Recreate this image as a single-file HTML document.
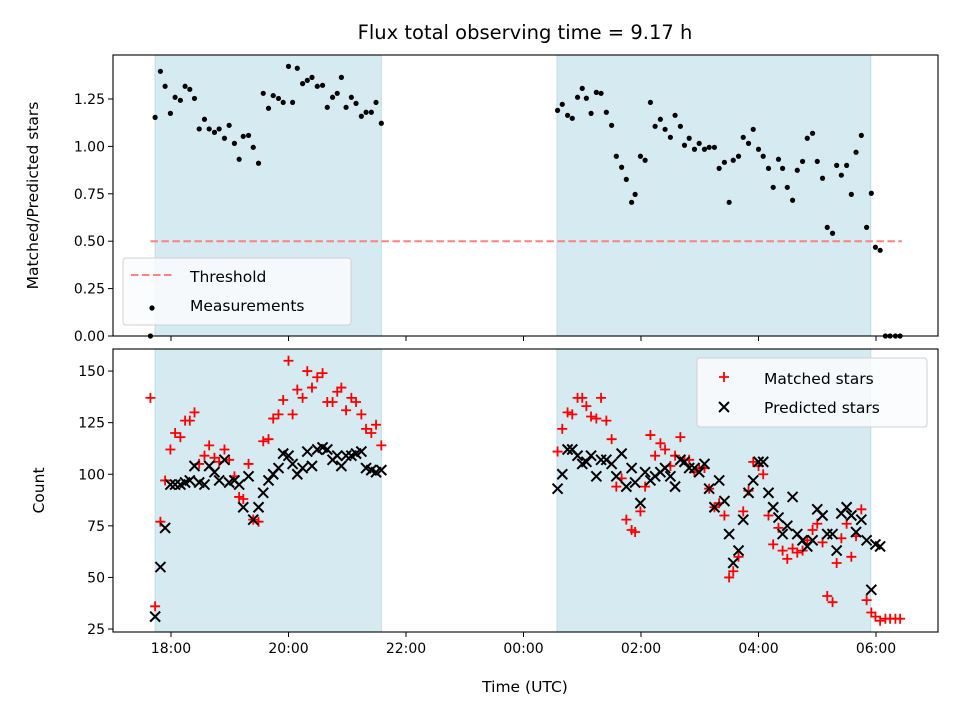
<!DOCTYPE html>
<html><head><meta charset="utf-8"><style>
html,body{margin:0;padding:0;background:#fff;}
svg{display:block;font-family:"DejaVu Sans","Liberation Sans",sans-serif;}
</style></head><body>
<svg id="chart" width="960" height="720" viewBox="0 0 960 720" xmlns="http://www.w3.org/2000/svg">
<text x="525" y="39" font-size="19.5" text-anchor="middle" fill="#000">Flux total observing time = 9.17 h</text>
<g id="top"></g><g id="bot"></g>
</svg>
<script>
// Decimal hours (24+ = next day)
const times = [17.65,17.73,17.82,17.90,17.99,18.07,18.16,18.24,18.32,18.40,18.48,18.57,18.65,18.74,18.82,18.91,18.99,19.08,19.16,19.23,19.32,19.40,19.49,19.57,19.66,19.74,19.83,19.91,20.00,20.07,20.15,20.24,20.32,20.40,20.49,20.58,20.66,20.75,20.83,20.90,20.98,21.07,21.15,21.24,21.32,21.41,21.49,21.58,
24.58,24.66,24.75,24.83,24.92,25.00,25.07,25.15,25.24,25.32,25.41,25.50,25.58,25.67,25.75,25.84,25.90,25.99,26.07,26.16,26.24,26.33,26.41,26.50,26.58,26.67,26.74,26.82,26.91,26.99,27.08,27.16,27.25,27.33,27.42,27.50,27.57,27.66,27.74,27.83,27.91,28.00,28.08,28.17,28.25,28.34,28.41,28.49,28.58,28.66,28.75,28.83,28.92,29.00,29.09,29.17,29.26,29.33,29.41,29.50,29.58,29.66,29.75,29.84,29.92,29.99,30.07,30.16,30.24,30.33,30.41];
const ratios = [0,1.153,1.396,1.317,1.174,1.259,1.243,1.317,1.301,1.253,1.092,1.143,1.092,1.074,1.092,1.043,1.111,1.016,0.932,1.053,1.058,0.995,0.911,1.280,1.201,1.268,1.253,1.232,1.422,1.232,1.412,1.331,1.348,1.364,1.317,1.322,1.206,1.259,1.280,1.364,1.206,1.259,1.227,1.159,1.180,1.180,1.232,1.122,
1.190,1.222,1.164,1.148,1.259,1.306,1.254,1.174,1.285,1.280,1.180,1.111,0.948,0.890,0.826,0.705,0.747,0.948,0.927,1.232,1.106,1.143,1.090,1.048,1.164,1.106,1.006,1.043,0.985,1.016,0.985,0.995,0.995,0.884,0.916,0.705,0.927,0.948,1.048,1.016,1.090,0.985,0.948,0.884,0.784,0.932,0.884,0.784,0.716,0.874,0.921,1.043,1.069,0.921,0.832,0.573,0.542,0.900,0.848,0.900,0.747,0.969,1.058,0.573,0.753,0.468,0.452,0,0,0,0];
const matched = [137,36,77,97,112,120,118,126,126,130,105,109,114,108,106,112,107,99,89,88,105,78,77,116,117,127,129,136,155,129,141,137,150,142,147,149,135,135,140,142,131,137,135,129,122,120,124,114,
111,122,130,129,137,137,133,128,127,137,126,117,94,98,78,73,72,82,94,119,109,115,112,104,109,118,107,107,101,103,103,93,84,86,80,50,53,60,82,92,106,104,100,80,66,74,63,59,64,62,63,68,73,76,67,41,38,57,69,76,60,70,83,39,33,31,29,30,30,30,30];
const predicted = [null,31,55,74,95,95,95,96,97,104,96,95,104,101,97,107,96,97,95,84,99,78,84,91,97,100,103,110,109,105,100,103,111,104,112,113,112,107,109,104,109,109,110,111,103,102,101,102,
93,100,112,112,109,105,106,109,99,107,107,105,99,110,94,103,96,86,101,97,99,101,103,99,94,107,106,103,103,101,105,93,84,97,87,71,57,63,78,91,97,106,106,91,84,79,71,75,89,71,68,65,68,83,80,71,71,63,81,84,80,72,78,68,44,66,65,null,null,null,null];
const topTicks = [0,0.25,0.5,0.75,1.0,1.25];
const botTicks = [25,50,75,100,125,150];
const xTicks = [18,20,22,24,26,28,30];
const xTickLabels = ["18:00","20:00","22:00","00:00","02:00","04:00","06:00"];
const spans = [[17.73,21.58],[24.57,29.91]];
const threshold = 0.5;

const NS="http://www.w3.org/2000/svg";
const L=113,R=938;
const X0=17.013,X1=31.055;
const xs=h=>L+(h-X0)/(X1-X0)*(R-L);
const T={top:55,bot:336,lo:0,hi:1.482};
const B={top:349,bot:632,lo:23.55,hi:160.7};
const ys=(P,v)=>P.bot-(v-P.lo)/(P.hi-P.lo)*(P.bot-P.top);
function mk(parent,tag,attrs){const e=document.createElementNS(NS,tag);for(const k in attrs)e.setAttribute(k,attrs[k]);parent.appendChild(e);return e;}

function frame(g,P,ticks,fmt,ylab,name){
  for(const s of spans){
    const r=mk(g,'rect',{x:xs(s[0]),y:P.top,width:xs(s[1])-xs(s[0]),height:P.bot-P.top,fill:'#d5eaf1',stroke:'#bcdde8','stroke-width':1});
    
    
  }
  for(const t of ticks){
    const y=ys(P,t);
    mk(g,'line',{x1:L-5,x2:L,y1:y,y2:y,stroke:'#000','stroke-width':1});
    const tx=mk(g,'text',{x:L-8,y:y+5,'font-size':14,'text-anchor':'end',fill:'#000'});
    tx.textContent=fmt(t);
    
    
  }
  xTicks.forEach(h=>{mk(g,'line',{x1:xs(h),x2:xs(h),y1:P.bot,y2:P.bot+5,stroke:'#000','stroke-width':1});});
  const yl=mk(g,'text',{x:0,y:0,'font-size':15.5,'text-anchor':'middle',fill:'#000',transform:`translate(${name=='top'?38:44},${(P.top+P.bot)/2}) rotate(-90)`});
  yl.textContent=ylab;
  
  
}

// TOP
const gt=document.getElementById('top');
frame(gt,T,topTicks,v=>v.toFixed(2),'Matched/Predicted stars','top');
const th=mk(gt,'line',{x1:xs(17.65),x2:xs(30.44),y1:ys(T,threshold),y2:ys(T,threshold),stroke:'#ff8080','stroke-width':2,'stroke-dasharray':'7.5,3.5'});


times.forEach((h,i)=>{
  const c=mk(gt,'circle',{cx:xs(h),cy:ys(T,ratios[i]),r:2.6,fill:'#000'});
  
  
});
mk(gt,'rect',{x:L,y:T.top,width:R-L,height:T.bot-T.top,fill:'none',stroke:'#000','stroke-width':1.1});
// top legend
const lg=mk(gt,'g',{});


mk(lg,'rect',{x:123,y:258,width:228,height:67,rx:3,fill:'#fafcfd','fill-opacity':0.85,stroke:'#d0d0d0'});
mk(lg,'line',{x1:131,x2:173,y1:275,y2:275,stroke:'#ff8080','stroke-width':2,'stroke-dasharray':'7.5,3.5'});
mk(lg,'circle',{cx:152,cy:308,r:2.6,fill:'#000'});
const l1=mk(lg,'text',{x:190,y:282,'font-size':15.5,fill:'#000'});l1.textContent='Threshold';
const l2=mk(lg,'text',{x:190,y:311,'font-size':15.5,fill:'#000'});l2.textContent='Measurements';

// BOTTOM
const gb=document.getElementById('bot');
frame(gb,B,botTicks,v=>String(v),'Count','bot');
times.forEach((h,i)=>{
  if(matched[i]!=null){
    const x=xs(h),y=ys(B,matched[i]);
    const p=mk(gb,'path',{d:`M${x-5} ${y}H${x+5}M${x} ${y-5}V${y+5}`,stroke:'#ff0000','stroke-width':1.8,fill:'none'});
    
    
  }
});
times.forEach((h,i)=>{
  if(predicted[i]!=null){
    const x=xs(h),y=ys(B,predicted[i]);
    const p=mk(gb,'path',{d:`M${x-5} ${y-5}L${x+5} ${y+5}M${x-5} ${y+5}L${x+5} ${y-5}`,stroke:'#000','stroke-width':2,fill:'none'});
    
    
  }
});
mk(gb,'rect',{x:L,y:B.top,width:R-L,height:B.bot-B.top,fill:'none',stroke:'#000','stroke-width':1.1});
xTicks.forEach((h,i)=>{
  const t=mk(gb,'text',{x:xs(h),y:B.bot+21,'font-size':14,'text-anchor':'middle',fill:'#000'});
  t.textContent=xTickLabels[i];
  
  
});
const xl=mk(gb,'text',{x:525,y:692,'font-size':15.5,'text-anchor':'middle',fill:'#000'});
xl.textContent='Time (UTC)';


const bl=mk(gb,'g',{});


mk(bl,'rect',{x:697,y:358,width:230,height:69,rx:3,fill:'#fafcfd','fill-opacity':0.85,stroke:'#d0d0d0'});
mk(bl,'path',{d:'M719 377H729M724 372V382',stroke:'#ff0000','stroke-width':1.8,fill:'none'});
mk(bl,'path',{d:'M719 402L729 412M719 412L729 402',stroke:'#000','stroke-width':2,fill:'none'});
const b1=mk(bl,'text',{x:764,y:384,'font-size':15.5,fill:'#000'});b1.textContent='Matched stars';
const b2=mk(bl,'text',{x:764,y:413,'font-size':15.5,fill:'#000'});b2.textContent='Predicted stars';
</script>
</body></html>
